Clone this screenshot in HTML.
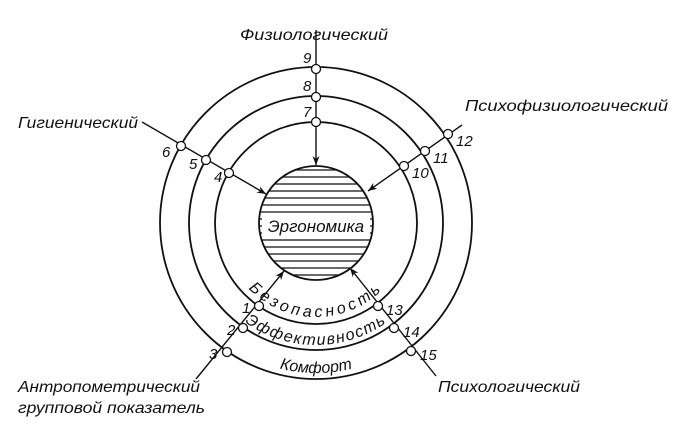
<!DOCTYPE html>
<html><head><meta charset="utf-8"><style>
html,body{margin:0;padding:0;background:#fff;}
svg{display:block;}
text{font-family:"Liberation Sans","DejaVu Sans",sans-serif;font-style:italic;fill:#111;}
</style></head><body>
<svg width="688" height="439" viewBox="0 0 688 439" xmlns="http://www.w3.org/2000/svg">
<defs>
<clipPath id="sp"><circle cx="316" cy="223" r="57"/></clipPath>
<path id="a1" d="M 222 223 A 94 94 0 0 0 410 223"/>
<path id="a2" d="M 194 223 A 122 122 0 0 0 438 223"/>
<path id="a3" d="M 166 223 A 150 150 0 0 0 466 223"/>
<marker id="ar" viewBox="0 0 10 10" refX="10" refY="5" markerWidth="9" markerHeight="9" orient="auto" markerUnits="userSpaceOnUse"><path d="M0,1 L10,5 L0,9 L3,5 z" fill="#111"/></marker>
</defs>
<g fill="none" stroke="#111" stroke-width="1.8">
<circle cx="316" cy="223" r="101"/>
<circle cx="316" cy="223" r="127"/>
<circle cx="316" cy="223" r="156"/>
<circle cx="316" cy="223" r="57"/>
</g>
<g clip-path="url(#sp)" stroke="#111" stroke-width="1.2">
<line x1="250" x2="380" y1="170" y2="170"/><line x1="250" x2="380" y1="177" y2="177"/>
<line x1="250" x2="380" y1="184" y2="184"/><line x1="250" x2="380" y1="191" y2="191"/>
<line x1="250" x2="380" y1="198" y2="198"/><line x1="250" x2="380" y1="205" y2="205"/>
<line x1="250" x2="380" y1="212" y2="212"/><line x1="250" x2="380" y1="219" y2="219"/>
<line x1="250" x2="380" y1="226" y2="226"/><line x1="250" x2="380" y1="233" y2="233"/>
<line x1="250" x2="380" y1="240" y2="240"/><line x1="250" x2="380" y1="247" y2="247"/>
<line x1="250" x2="380" y1="254" y2="254"/><line x1="250" x2="380" y1="261" y2="261"/>
<line x1="250" x2="380" y1="268" y2="268"/><line x1="250" x2="380" y1="275" y2="275"/>
</g>
<rect x="262" y="215" width="108" height="22" fill="#fff"/>
<text x="316" y="232" font-size="17" text-anchor="middle">Эргономика</text>
<g stroke="#111" stroke-width="1.4" fill="none" marker-end="url(#ar)">
<line x1="316" y1="30" x2="316" y2="165"/>
<line x1="142" y1="122" x2="266" y2="194"/>
<line x1="462" y1="125" x2="368" y2="191"/>
<line x1="196" y1="379" x2="284" y2="271"/>
<line x1="436" y1="376" x2="350" y2="268"/>
</g>
<g fill="#fff" stroke="#111" stroke-width="1.3">
<circle cx="316" cy="69" r="4.5"/><circle cx="316" cy="97" r="4.5"/><circle cx="316" cy="122" r="4.5"/>
<circle cx="229" cy="173" r="4.5"/><circle cx="206" cy="160" r="4.5"/><circle cx="181" cy="146" r="4.5"/>
<circle cx="404" cy="166" r="4.5"/><circle cx="425" cy="151" r="4.5"/><circle cx="448" cy="134" r="4.5"/>
<circle cx="259" cy="306" r="4.5"/><circle cx="243" cy="328" r="4.5"/><circle cx="227" cy="352" r="4.5"/>
<circle cx="378" cy="306" r="4.5"/><circle cx="394" cy="328" r="4.5"/><circle cx="411" cy="351" r="4.5"/>
</g>
<g font-size="15">
<text x="303" y="63">9</text><text x="303" y="91">8</text><text x="303" y="117">7</text>
<text x="214" y="182">4</text><text x="189" y="169">5</text><text x="162" y="157">6</text>
<text x="412" y="178">10</text><text x="433" y="163">11</text><text x="456" y="146">12</text>
<text x="242" y="313">1</text><text x="227" y="335">2</text><text x="209" y="359">3</text>
<text x="386" y="315">13</text><text x="403" y="337">14</text><text x="420" y="360">15</text>
</g>
<g font-size="16">
<text x="240" y="40" textLength="148" lengthAdjust="spacingAndGlyphs">Физиологический</text>
<text x="18" y="128" textLength="120" lengthAdjust="spacingAndGlyphs">Гигиенический</text>
<text x="465" y="111" textLength="203" lengthAdjust="spacingAndGlyphs">Психофизиологический</text>
<text x="18" y="392" textLength="182" lengthAdjust="spacingAndGlyphs">Антропометрический</text>
<text x="18" y="413" textLength="187" lengthAdjust="spacingAndGlyphs">групповой показатель</text>
<text x="438" y="392" textLength="142" lengthAdjust="spacingAndGlyphs">Психологический</text>
</g>
<g font-size="16">
<text><textPath href="#a1" startOffset="50%" text-anchor="middle" letter-spacing="3.5">Безопасность</textPath></text>
<text><textPath href="#a2" startOffset="50%" text-anchor="middle" letter-spacing="1.5">Эффективность</textPath></text>
<text><textPath href="#a3" startOffset="50%" text-anchor="middle">Комфорт</textPath></text>
</g>
</svg>
</body></html>
